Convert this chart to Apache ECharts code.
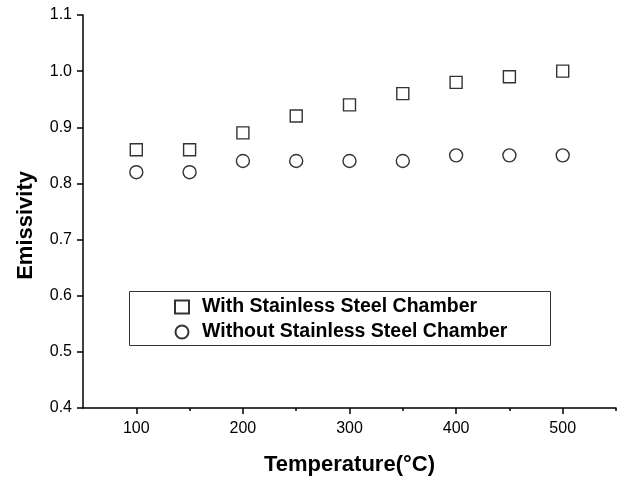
<!DOCTYPE html>
<html><head><meta charset="utf-8">
<script src="https://cdn.jsdelivr.net/npm/echarts@6/dist/echarts.min.js"></script>
<style>html,body{margin:0;padding:0;background:#fff}#c{width:619px;height:479px}</style>
</head><body><div id="c"></div>
<script>
const temperatures = [100, 150, 200, 250, 300, 350, 400, 450, 500];
const withChamber = [0.86, 0.86, 0.89, 0.92, 0.94, 0.96, 0.98, 0.99, 1.00];
const withoutChamber = [0.82, 0.82, 0.84, 0.84, 0.84, 0.84, 0.85, 0.85, 0.85];
const xMajorTicks = [100, 200, 300, 400, 500];
const xMinorTicks = [150, 250, 350, 450, 550];
const seriesNames = ['With Stainless Steel Chamber', 'Without Stainless Steel Chamber'];
const yAxisTitle = 'Emissivity';
const xAxisTitle = 'Temperature(°C)';

const chart = echarts.init(document.getElementById('c'), null, {renderer: 'canvas'});
const font = 'Arial, "Liberation Sans", sans-serif';
const axisX = {
  type: 'value', min: 50, max: 550, position: 'bottom',
  splitLine: {show: false},
};
chart.setOption({
  animation: false,
  backgroundColor: '#fff',
  grid: {left: 83, right: 3, top: 15, bottom: 71, containLabel: false, outerBoundsMode: 'none'},
  graphic: [
    {type: 'rect', left: 127, top: 289, z: 0,
     shape: {width: 421, height: 54},
     style: {fill: 'none', stroke: '#333', lineWidth: 1}},
    {type: 'text', left: 15, top: 171, rotation: Math.PI / 2, z: 10,
     style: {text: yAxisTitle, fontFamily: font, fontWeight: 'bold', fontSize: 22, fill: '#000'}}
  ],
  xAxis: [
    Object.assign({}, axisX, {
      name: xAxisTitle, nameLocation: 'middle', nameGap: 46,
      nameTextStyle: {fontFamily: font, fontWeight: 'bold', fontSize: 22, color: '#000'},
      axisLine: {lineStyle: {color: '#000', width: 1.5}},
      axisTick: {show: true, customValues: xMajorTicks, length: 6, lineStyle: {color: '#000', width: 1.5}},
      axisLabel: {customValues: xMajorTicks, fontFamily: font, fontSize: 16, color: '#000', margin: 13}
    }),
    Object.assign({}, axisX, {
      axisLine: {show: false},
      axisTick: {show: true, customValues: xMinorTicks, length: 3, lineStyle: {color: '#000', width: 1.5}},
      axisLabel: {show: false}
    })
  ],
  yAxis: {
    type: 'value', min: 0.4, max: 1.1, interval: 0.1,
    axisLine: {show: true, lineStyle: {color: '#000', width: 1.5}},
    axisTick: {show: true, length: 6, lineStyle: {color: '#000', width: 1.5}},
    axisLabel: {fontFamily: font, fontSize: 16, color: '#000', margin: 11, formatter: v => v.toFixed(1)},
    splitLine: {show: false}
  },
  legend: {
    orient: 'vertical', left: 174, top: 297,
    padding: 0,
    itemGap: 5, itemWidth: 14, itemHeight: 13,
    textStyle: {fontFamily: font, fontWeight: 'bold', fontSize: 19.5, color: '#000', padding: [0, 0, 0, 8]},
    data: seriesNames
  },
  series: [
    {
      name: seriesNames[0], type: 'scatter', symbol: 'rect', symbolSize: 12,
      data: temperatures.map((t, i) => [t, withChamber[i]]),
      itemStyle: {color: '#fff', borderColor: '#000', borderWidth: 1.4}
    },
    {
      name: seriesNames[1], type: 'scatter', symbol: 'circle', symbolSize: 13,
      data: temperatures.map((t, i) => [t, withoutChamber[i]]),
      itemStyle: {color: '#fff', borderColor: '#000', borderWidth: 1.4}
    }
  ]
});
</script></body></html>
